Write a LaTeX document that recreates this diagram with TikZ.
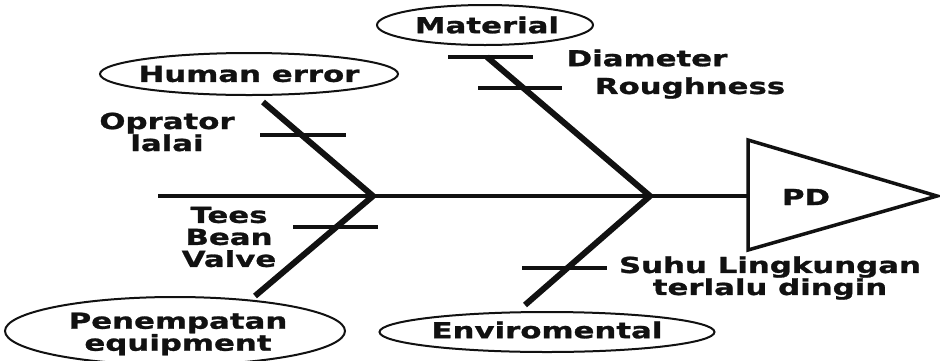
\documentclass[tikz,border=0pt]{standalone}
\usepackage{fontspec}
\usetikzlibrary{shapes.geometric}
\newfontfamily\labelfont{DejaVu Sans Bold}[FakeStretch=1.4, FakeBold=1.2]
\definecolor{ink}{HTML}{111111}
\begin{document}
\begin{tikzpicture}[x=1pt,y=-1pt,
  every node/.style={font=\labelfont\fontsize{22}{22}\selectfont, text=ink,
    align=center, inner sep=0pt},
  cause/.style={draw=ink, line width=2pt, ellipse, inner sep=0pt},
  bone/.style={draw=ink, line width=6pt, line join=miter},
  spine/.style={draw=ink, line width=4.5pt},
  tick/.style={draw=ink, line width=4.5pt},
  head/.style={draw=ink, line width=3.5pt, line join=miter}]
\useasboundingbox (0,0) rectangle (940,360);

% spine and head
\coordinate (tail) at (158,196);
\coordinate (j1) at (373,196);
\coordinate (j2) at (650,196);
\coordinate (hl) at (748,196);
\coordinate (htop) at (748,140);
\coordinate (hbot) at (748,250);
\coordinate (hapex) at (937,196);
\draw[spine] (tail) -- (j1) -- (j2);
\draw[spine, line width=3.5pt] (j2) -- (hl);
\draw[head] (htop) -- (hapex) -- (hbot) -- cycle;
\node (pd) at (806,197) {PD};

% main bones
\coordinate (ul) at (263,102);
\coordinate (ll) at (255,296);
\coordinate (ur) at (487,57);
\coordinate (lr) at (525,305);
\draw[bone] (ul) -- (j1) -- (ll);
\draw[bone] (ur) -- (j2) -- (lr);

% sub-cause ticks
\coordinate (t1a) at (260,135); \coordinate (t1b) at (346,135);
\coordinate (t2a) at (293,227); \coordinate (t2b) at (378,227);
\coordinate (t3a) at (448,57);  \coordinate (t3b) at (533,57);
\coordinate (t4a) at (478,88);  \coordinate (t4b) at (562,88);
\coordinate (t5a) at (522,268); \coordinate (t5b) at (607,268);
\draw[tick] (t1a) -- (t1b);
\draw[tick] (t2a) -- (t2b);
\draw[tick] (t3a) -- (t3b);
\draw[tick] (t4a) -- (t4b);
\draw[tick] (t5a) -- (t5b);

% cause categories
\node[cause, minimum width=216, minimum height=40] (material) at (485,25) {};
\node at (487,25) {Material};
\node[cause, minimum width=298, minimum height=42] (human) at (249,74) {};
\node at (human) {Human error};
\node[cause, minimum width=340, minimum height=68] (penempatan) at (175,331) {};
\node at (178,334) {Penempatan\\equipment};
\node[cause, minimum width=335, minimum height=40] (env) at (547,332) {};
\node at (547,330) {Enviromental};

% sub-cause labels
\node (oprator) at (167,132) {Oprator\\lalai};
\node (tbv) at (229,237) {Tees\\Bean\\Valve};
\node (diam) at (647,58) {Diameter};
\node (rough) at (690,88) {Roughness};
\node (suhu) at (770,278) {Suhu Lingkungan\\terlalu dingin};
\end{tikzpicture}
\end{document}
